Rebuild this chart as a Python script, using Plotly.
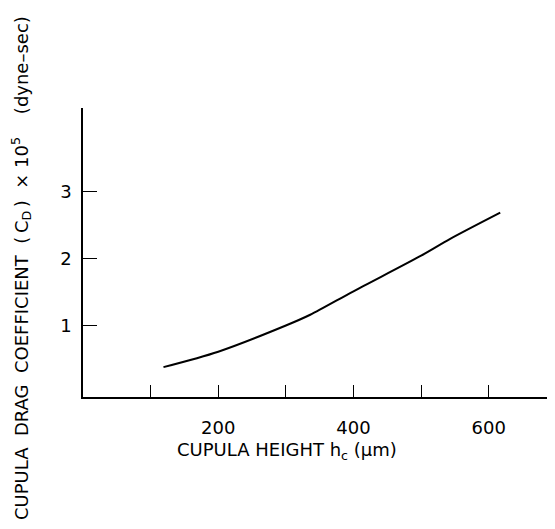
import plotly.graph_objects as go

# Data
height_um = [119, 200, 300, 336, 400, 500, 543, 617]
drag_coef = [0.38, 0.61, 1.00, 1.16, 1.51, 2.04, 2.29, 2.68]

x_tick_vals = [100, 200, 300, 400, 500, 600]
x_tick_text = ["", "200", "", "400", "", "600"]
y_tick_vals = [1, 2, 3]
y_tick_text = ["1", "2", "3"]

# the page body adds an 8px margin, so the figure is drawn 8px in from the window
OFF = 8
W, H = 555 - OFF, 529 - OFF
L, R, T, B = 83 - OFF, 0, 108 - OFF, 529 - 397
pw, ph = W - L - R, H - T - B

def px_x(px):
    return (px - OFF - L) / pw

def px_y(py):
    return (H - B - (py - OFF)) / ph

font = "DejaVu Sans"

fig = go.Figure()
fig.add_trace(go.Scatter(
    x=height_um, y=drag_coef, mode="lines",
    line=dict(color="black", width=2, shape="spline", smoothing=0.8),
    showlegend=False, hoverinfo="skip",
))

fig.update_layout(
    width=W, height=H,
    margin=dict(l=L, r=R, t=T, b=B, pad=0, autoexpand=False),
    paper_bgcolor="white", plot_bgcolor="white",
    font=dict(family=font, color="black", size=18),
    xaxis=dict(
        range=[0, 698], showgrid=False, zeroline=False, automargin=False,
        showline=True, linecolor="black", linewidth=1.6,
        ticks="inside", ticklen=12, tickwidth=1.3, tickcolor="black",
        tickvals=x_tick_vals, ticktext=x_tick_text,
        ticklabelstandoff=14,
        tickfont=dict(family=font, size=18),
    ),
    yaxis=dict(
        range=[-0.065, 4.24], showgrid=False, zeroline=False, automargin=False,
        showline=True, linecolor="black", linewidth=1.6,
        ticks="inside", ticklen=14, tickwidth=1.3, tickcolor="black",
        tickvals=y_tick_vals, ticktext=y_tick_text,
        ticklabelposition="outside",
        ticklabelstandoff=6,
        tickfont=dict(family=font, size=18),
    ),
    annotations=[
        dict(
            text="CUPULA HEIGHT h<sub>c</sub> (\u03bcm)",
            xref="paper", yref="paper", x=px_x(287), y=px_y(451),
            xanchor="center", yanchor="middle", showarrow=False,
            font=dict(family=font, size=18, color="black"),
        ),
        dict(
            text="CUPULA\u00a0 DRAG\u00a0 COEFFICIENT\u00a0 (\u2009C<sub>D</sub>\u2009)\u00a0 \u00d7\u00a010<sup>5</sup>\u00a0\u00a0\u00a0 (dyne\u2013sec)",
            xref="paper", yref="paper", x=px_x(21), y=px_y(268),
            xanchor="center", yanchor="middle", showarrow=False, textangle=-90,
            font=dict(family=font, size=18, color="black"),
        ),
    ],
)

fig.write_html("out.html")
